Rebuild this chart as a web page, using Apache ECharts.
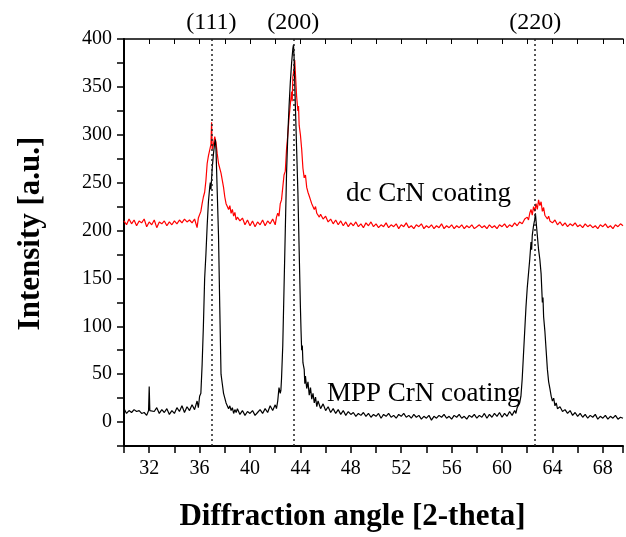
<!DOCTYPE html>
<html>
<head>
<meta charset="utf-8">
<script src="https://cdn.jsdelivr.net/npm/echarts@6/dist/echarts.min.js"></script>
<style>
html,body{margin:0;padding:0;background:#fff;overflow:hidden;}
#chart{width:626px;height:537px;position:absolute;left:0;top:0;}
</style>
</head>
<body>
<div id="chart"></div>
<script>
// MPP CrN coating (black) : [2-theta, intensity]
var mppData = [
[30.0,14],[30.2,9],[30.4,12],[30.6,10],[30.8,13],[31.0,11],[31.2,12],[31.4,9],[31.6,10],[31.8,7],[31.95,12],[32.0,37],[32.05,12],
[32.2,14],[32.4,11],[32.6,15],[32.8,9],[33.0,13],[33.2,10],[33.4,14],[33.6,8],[33.8,12],[34.0,9],[34.2,15],[34.4,11],[34.6,17],
[34.8,10],[35.0,16],[35.2,12],[35.4,18],[35.6,13],[35.8,22],[35.9,15],[36.0,27],[36.1,30],[36.2,60],[36.3,100],[36.4,150],
[36.5,175],[36.6,205],[36.7,230],[36.8,245],[36.85,250],[36.9,243],[37.0,265],[37.1,280],[37.2,292],[37.25,295],[37.3,285],
[37.4,240],[37.5,195],[37.6,120],[37.7,50],[37.8,40],[37.9,30],[38.0,25],[38.1,20],[38.2,18],[38.3,14],[38.4,17],[38.5,12],
[38.6,15],[38.7,9],[38.8,13],[38.9,10],[39.0,14],[39.2,8],[39.4,12],[39.6,7],[39.8,11],[40.0,9],[40.2,12],[40.4,7],[40.6,10],
[40.8,13],[41.0,9],[41.2,14],[41.4,10],[41.6,17],[41.8,12],[42.0,18],[42.1,14],[42.2,22],[42.3,36],[42.4,30],[42.45,33],
[42.5,45],[42.6,80],[42.7,140],[42.8,200],[42.9,260],[43.0,300],[43.1,330],[43.2,355],[43.3,375],[43.4,390],[43.45,394],
[43.5,380],[43.6,330],[43.7,285],[43.8,240],[43.9,180],[44.0,120],[44.05,95],[44.1,75],[44.15,80],[44.2,62],[44.3,55],
[44.35,40],[44.4,48],[44.5,35],[44.6,42],[44.7,28],[44.8,36],[44.9,24],[45.0,30],[45.1,20],[45.2,26],[45.3,16],[45.4,22],
[45.6,14],[45.8,19],[46.0,12],[46.2,16],[46.4,10],[46.6,14],[46.8,9],[47.0,13],[47.2,8],[47.4,12],[47.6,7],[47.8,11],[48.0,8],
[48.2,10],[48.4,6],[48.6,9],[48.8,7],[49.0,10],[49.2,6],[49.4,9],[49.6,5],[49.8,8],[50.0,6],[50.2,9],[50.4,4],[50.6,8],[50.8,6],
[51.0,9],[51.2,5],[51.4,7],[51.6,4],[51.8,8],[52.0,6],[52.2,9],[52.4,5],[52.6,7],[52.8,4],[53.0,8],[53.2,5],[53.4,7],[53.6,3],
[53.8,6],[54.0,4],[54.2,7],[54.4,2],[54.6,6],[54.8,4],[55.0,7],[55.2,5],[55.4,8],[55.6,4],[55.8,6],[56.0,3],[56.2,7],[56.4,5],
[56.6,8],[56.8,4],[57.0,6],[57.2,3],[57.4,7],[57.6,5],[57.8,8],[58.0,4],[58.2,7],[58.4,5],[58.6,9],[58.8,4],[59.0,8],[59.2,5],
[59.4,9],[59.6,6],[59.8,10],[60.0,5],[60.2,9],[60.4,6],[60.6,11],[60.8,7],[61.0,12],[61.1,9],[61.2,15],[61.3,13],[61.4,20],
[61.5,27],[61.6,45],[61.7,70],[61.8,95],[61.9,120],[62.0,140],[62.1,155],[62.2,170],[62.3,188],[62.35,180],[62.4,195],
[62.5,205],[62.6,212],[62.65,218],[62.7,210],[62.8,195],[62.9,180],[63.0,170],[63.1,155],[63.2,125],[63.25,130],[63.3,110],
[63.4,95],[63.5,75],[63.6,55],[63.7,42],[63.8,35],[63.9,27],[64.0,22],[64.1,25],[64.2,17],[64.3,20],[64.4,14],[64.6,16],
[64.8,11],[65.0,13],[65.2,9],[65.4,12],[65.6,7],[65.8,10],[66.0,6],[66.2,9],[66.4,5],[66.6,8],[66.8,4],[67.0,7],[67.2,5],
[67.4,8],[67.6,3],[67.8,6],[68.0,4],[68.2,7],[68.4,3],[68.6,6],[68.8,4],[69.0,7],[69.2,3],[69.4,5],[69.6,4]
];

// dc CrN coating (red) : [2-theta, intensity]
var dcData = [
[30.0,210],[30.2,206],[30.4,212],[30.6,207],[30.8,211],[31.0,205],[31.2,210],[31.4,208],[31.6,212],[31.8,204],[32.0,209],
[32.2,206],[32.4,211],[32.6,203],[32.8,209],[33.0,207],[33.2,210],[33.4,205],[33.6,209],[33.8,206],[34.0,210],[34.2,207],
[34.4,211],[34.6,208],[34.8,212],[35.0,209],[35.2,211],[35.4,208],[35.6,212],[35.7,210],[35.8,203],[35.9,213],[36.0,215],
[36.1,220],[36.2,228],[36.3,235],[36.4,240],[36.5,252],[36.6,270],[36.7,278],[36.8,280],[36.9,290],[36.95,313],[37.0,285],
[37.1,290],[37.2,298],[37.25,296],[37.3,292],[37.4,280],[37.5,270],[37.6,268],[37.7,260],[37.8,262],[37.9,245],[38.0,235],
[38.1,228],[38.2,225],[38.3,222],[38.4,226],[38.5,218],[38.6,222],[38.7,215],[38.8,219],[38.9,211],[39.0,214],[39.2,210],
[39.4,213],[39.6,206],[39.8,211],[40.0,205],[40.2,210],[40.4,204],[40.6,209],[40.8,206],[41.0,211],[41.2,205],[41.4,210],
[41.6,207],[41.8,212],[42.0,206],[42.1,214],[42.2,218],[42.3,215],[42.4,228],[42.5,232],[42.6,245],[42.7,258],[42.8,262],
[42.9,285],[43.0,300],[43.1,318],[43.2,332],[43.3,345],[43.35,335],[43.4,360],[43.5,370],[43.55,378],[43.6,365],[43.7,340],
[43.8,325],[43.85,330],[43.9,310],[44.0,300],[44.1,285],[44.2,265],[44.3,255],[44.4,258],[44.5,245],[44.6,240],[44.7,236],
[44.8,232],[44.9,228],[45.0,230],[45.1,222],[45.2,225],[45.3,218],[45.4,220],[45.5,214],[45.6,217],[45.8,212],[46.0,215],
[46.2,209],[46.4,212],[46.6,207],[46.8,211],[47.0,206],[47.2,210],[47.4,205],[47.6,209],[47.8,204],[48.0,208],[48.2,205],
[48.4,209],[48.6,204],[48.8,207],[49.0,203],[49.2,208],[49.4,205],[49.6,209],[49.8,204],[50.0,207],[50.2,203],[50.4,206],
[50.6,204],[50.8,208],[51.0,203],[51.2,206],[51.4,204],[51.6,207],[51.8,202],[52.0,206],[52.2,204],[52.4,208],[52.6,203],
[52.8,205],[53.0,202],[53.2,206],[53.4,204],[53.6,207],[53.8,202],[54.0,205],[54.2,203],[54.4,206],[54.6,202],[54.8,205],
[55.0,203],[55.2,207],[55.4,202],[55.6,205],[55.8,203],[56.0,206],[56.2,202],[56.4,205],[56.6,203],[56.8,206],[57.0,202],
[57.2,205],[57.4,203],[57.6,206],[57.8,202],[58.0,204],[58.2,206],[58.4,203],[58.6,205],[58.8,202],[59.0,206],[59.2,203],
[59.4,205],[59.6,202],[59.8,206],[60.0,204],[60.2,207],[60.4,203],[60.6,206],[60.8,204],[61.0,208],[61.2,205],[61.4,209],
[61.6,207],[61.8,212],[62.0,214],[62.1,211],[62.2,218],[62.3,222],[62.4,216],[62.5,225],[62.6,220],[62.7,228],[62.8,222],
[62.9,232],[63.0,226],[63.1,230],[63.2,220],[63.3,224],[63.4,216],[63.5,218],[63.6,212],[63.7,215],[63.8,210],[63.9,212],
[64.0,208],[64.2,211],[64.4,206],[64.6,209],[64.8,205],[65.0,208],[65.2,204],[65.4,207],[65.6,205],[65.8,208],[66.0,204],
[66.2,206],[66.4,203],[66.6,207],[66.8,204],[67.0,206],[67.2,203],[67.4,205],[67.6,202],[67.8,206],[68.0,204],[68.2,207],
[68.4,203],[68.6,205],[68.8,202],[69.0,206],[69.2,204],[69.4,207],[69.6,205]
];

var peakPositions = [36.94, 43.44, 62.63];
var peakLabels = ['(111)', '(200)', '(220)'];
var seriesNames = ['dc CrN coating', 'MPP CrN coating'];

var serif = '"Liberation Serif", "Times New Roman", serif';
var chart = echarts.init(document.getElementById('chart'), null, {renderer: 'canvas', width: 626, height: 537});

var markData = peakPositions.map(function (p, i) {
  return {xAxis: p, label: {formatter: peakLabels[i]}};
});

var option = {
  animation: false,
  backgroundColor: '#fff',
  grid: {left: 124, top: 39, right: 0, bottom: 83, containLabel: false},
  xAxis: [{
    type: 'value', min: 30, max: 69.6, interval: 2, position: 'bottom',
    name: 'Diffraction angle [2-theta]', nameLocation: 'middle', nameGap: 55,
    nameTextStyle: {fontFamily: serif, fontSize: 31, fontWeight: 'bold', color: '#000', padding: [0, 42, 0, 0]},
    axisLine: {onZero: false, lineStyle: {color: '#000', width: 2}},
    axisTick: {inside: false, length: 7, lineStyle: {color: '#000', width: 1.5}},
    axisLabel: {margin: 13, fontFamily: serif, fontSize: 20, color: '#000',
      formatter: function (v) { return ((v - 32) % 4 === 0 && v >= 32 && v <= 68) ? String(v) : ''; }},
    splitLine: {show: false}
  }, {
    type: 'value', min: 30, max: 69.6, interval: 2, position: 'top',
    axisLine: {onZero: false, lineStyle: {color: '#000', width: 1.5}},
    axisTick: {inside: true, length: 5, lineStyle: {color: '#000', width: 1}},
    axisLabel: {show: false}, splitLine: {show: false}
  }],
  yAxis: {
    type: 'value', min: -25, max: 400, interval: 25,
    name: 'Intensity [a.u.]', nameLocation: 'middle', nameRotate: 90, nameGap: 78,
    nameTextStyle: {fontFamily: serif, fontSize: 31, fontWeight: 'bold', color: '#000', padding: [0, 0, 0, 18]},
    axisLine: {onZero: false, lineStyle: {color: '#000', width: 2}},
    axisTick: {inside: false, length: 7, lineStyle: {color: '#000', width: 1.5}},
    axisLabel: {margin: 12, fontFamily: serif, fontSize: 20, color: '#000',
      formatter: function (v) { return (v % 50 === 0 && v >= 0) ? String(v) : ''; }},
    splitLine: {show: false}
  },
  series: [{
    name: seriesNames[0], type: 'line', data: dcData, showSymbol: false, symbol: 'none',
    lineStyle: {color: '#ff0000', width: 1.2}, z: 2
  }, {
    name: seriesNames[1], type: 'line', data: mppData, showSymbol: false, symbol: 'none',
    lineStyle: {color: '#000', width: 1.2}, z: 3,
    markLine: {
      silent: true, symbol: 'none', animation: false,
      lineStyle: {color: '#222', width: 1.5, type: [2, 3]},
      label: {position: 'end', distance: 4, fontFamily: serif, fontSize: 24, color: '#000'},
      data: markData
    }
  }],
  graphic: [{
    type: 'text', left: 346, top: 180,
    style: {text: seriesNames[0], fontFamily: serif, fontSize: 27, fill: '#000'}
  }, {
    type: 'text', left: 327, top: 380,
    style: {text: seriesNames[1], fontFamily: serif, fontSize: 27, fill: '#000'}
  }]
};
chart.setOption(option);
</script>
</body>
</html>
